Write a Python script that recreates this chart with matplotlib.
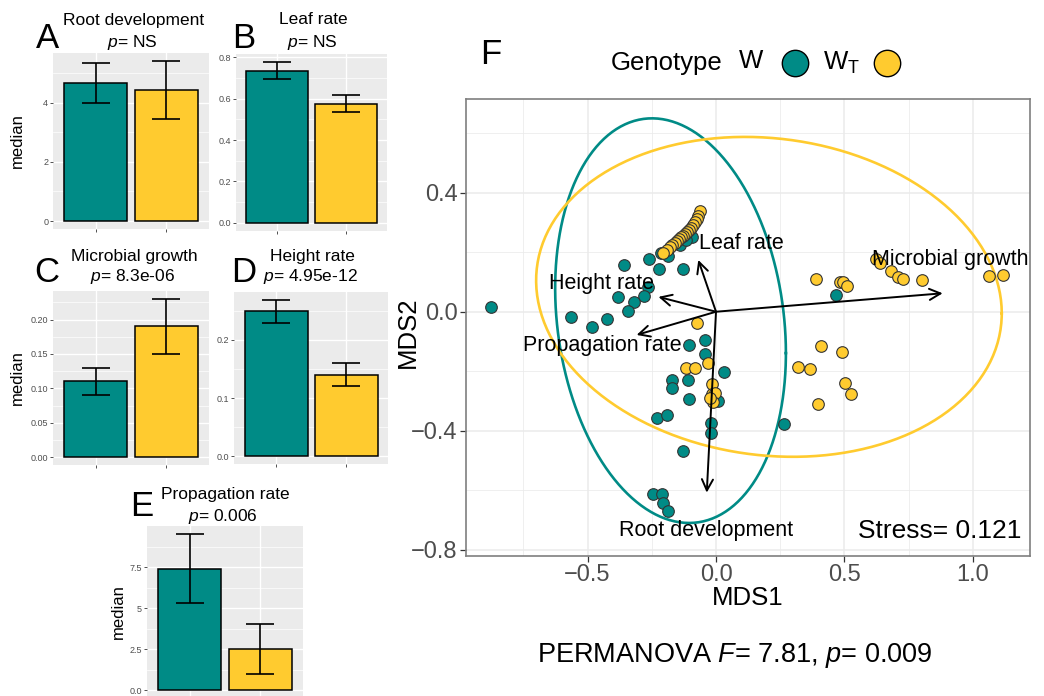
import numpy as np
import matplotlib
matplotlib.use('Agg')
import matplotlib.pyplot as plt
from matplotlib.lines import Line2D

# ---------------- data: bar panels (median with interval) ----------------
root_median = [4.67, 4.44]
root_lo = [4.00, 3.44]
root_hi = [5.35, 5.42]

leaf_median = [0.735, 0.576]
leaf_lo = [0.695, 0.537]
leaf_hi = [0.776, 0.616]

micro_median = [0.110, 0.190]
micro_lo = [0.090, 0.150]
micro_hi = [0.130, 0.230]

height_median = [0.250, 0.139]
height_lo = [0.229, 0.120]
height_hi = [0.269, 0.160]

prop_median = [7.40, 2.51]
prop_lo = [5.30, 0.97]
prop_hi = [9.53, 4.06]

# ---------------- data: MDS ordination ----------------
w_x = [-0.875, -0.358, -0.261, -0.222, -0.215, -0.188, -0.128, -0.095, -0.140, -0.115,
       -0.263, -0.282, -0.318, -0.342, -0.380, -0.425, -0.482, -0.565,
       -0.107, -0.043, -0.043, 0.031, -0.172, -0.172, -0.110, -0.105, 0.009,
       -0.230, -0.189, -0.021, -0.021, -0.127, 0.265,
       -0.244, -0.211, -0.207, -0.188, 0.466]
w_y = [0.016, 0.156, 0.176, 0.145, 0.196, 0.188, 0.143, 0.252, 0.225, 0.240,
       0.082, 0.053, 0.034, 0.003, 0.050, -0.025, -0.050, -0.017,
       -0.112, -0.095, -0.143, -0.204, -0.230, -0.258, -0.230, -0.292, -0.300,
       -0.356, -0.347, -0.375, -0.409, -0.468, -0.377,
       -0.613, -0.613, -0.644, -0.670, 0.056]

wt_x = [-0.062, -0.069, -0.075, -0.082, -0.090, -0.098, -0.105, -0.112, -0.120,
        -0.128, -0.136, -0.145, -0.152, -0.160, -0.170, -0.180, -0.192, -0.205,
        -0.075, -0.117, -0.082, -0.030, -0.017, -0.017, -0.004, -0.010, -0.023,
        0.320, 0.388, 0.482, 0.495, 0.511, 0.624, 0.639, 0.681, 0.710, 0.727,
        0.801, 1.064, 1.118, 0.409, 0.489, 0.366, 0.502, 0.524, 0.398]
wt_y = [0.340, 0.322, 0.310, 0.300, 0.290, 0.282, 0.275, 0.268, 0.262,
        0.256, 0.250, 0.244, 0.238, 0.232, 0.224, 0.216, 0.207, 0.198,
        -0.039, -0.190, -0.188, -0.173, -0.243, -0.277, -0.272, -0.303, -0.291,
        -0.185, 0.110, 0.101, 0.101, 0.086, 0.176, 0.163, 0.137, 0.118, 0.110,
        0.107, 0.120, 0.123, -0.116, -0.134, -0.194, -0.241, -0.278, -0.311]

# confidence ellipses (centre, covariance)
ell_w_center = [-0.177, -0.030]
ell_w_cov = [[0.2016, -0.049], [-0.049, 0.4624]]
ell_wt_center = [0.206, 0.050]
ell_wt_cov = [[0.821, -0.050], [-0.050, 0.289]]

# trait vectors
vec_names = ['Leaf rate', 'Height rate', 'Propagation rate', 'Microbial growth', 'Root development']
vec_x = [-0.069, -0.224, -0.309, 0.882, -0.036]
vec_y = [0.174, 0.050, -0.078, 0.062, -0.608]
lab_x = [0.097, -0.444, -0.444, 0.910, -0.040]
lab_y = [0.230, 0.096, -0.115, 0.177, -0.734]

stress_text = 'Stress= 0.121'
permanova_F = '7.81'
permanova_p = '0.009'

# ---------------- style ----------------
TEAL = '#008B86'
YEL = '#FFCB2F'
plt.rcParams['font.family'] = ['Liberation Sans', 'DejaVu Sans']
plt.rcParams['mathtext.fontset'] = 'custom'
plt.rcParams['mathtext.rm'] = 'Liberation Sans'
plt.rcParams['mathtext.it'] = 'Liberation Sans:italic'

W, H = 1044, 696
fig = plt.figure(figsize=(W / 100, H / 100), dpi=100)


def rect(x0, y0, x1, y1):
    return [x0 / W, 1 - y1 / H, (x1 - x0) / W, (y1 - y0) / H]


def fpos(x, y):
    return x / W, 1 - y / H


def bar_panel(r, med, lo, hi, ticks, ticklabels, ylabel_x=None):
    ax = fig.add_axes(r)
    ax.set_facecolor('#EBEBEB')
    med = np.array(med); lo = np.array(lo); hi = np.array(hi)
    x = np.array([1, 2])
    ax.bar(x, med, width=0.9, color=[TEAL, YEL], edgecolor='black', linewidth=1.1, zorder=3)
    ax.errorbar(x, med, yerr=[med - lo, hi - med], fmt='none', ecolor='black',
                elinewidth=1.2, capsize=10, capthick=1.2, zorder=4)
    top = hi.max()
    ax.set_ylim(-0.05 * top, 1.05 * top)
    ax.set_xlim(0.4, 2.6)
    ax.set_yticks(ticks)
    ax.set_yticklabels(ticklabels)
    step = ticks[1] - ticks[0]
    minor = np.arange(ticks[0] + step / 2, 1.05 * top, step)
    ax.set_yticks(minor, minor=True)
    ax.set_xticks(x)
    ax.set_xticklabels(['', ''])
    ax.grid(True, which='major', color='white', linewidth=1.0, zorder=0)
    ax.grid(True, which='minor', axis='y', color='white', linewidth=0.5, zorder=0)
    ax.set_axisbelow(True)
    for s in ax.spines.values():
        s.set_visible(False)
    ax.tick_params(axis='both', which='major', length=2.5, width=0.6, color='#333333',
                   labelsize=6.5, labelcolor='#4D4D4D', pad=1)
    ax.tick_params(axis='y', which='minor', length=0)
    if ylabel_x is not None:
        ax.set_ylabel('median', fontsize=12)
        ax.yaxis.set_label_coords(ylabel_x, 0.5)
    return ax


axA = bar_panel(rect(53, 53, 209, 229), root_median, root_lo, root_hi,
                [0, 2, 4], ['0', '2', '4'], (25 - 53) / 156)
axB = bar_panel(rect(236, 54, 387, 231), leaf_median, leaf_lo, leaf_hi,
                [0, 0.2, 0.4, 0.6, 0.8], ['0.0', '0.2', '0.4', '0.6', '0.8'])
axC = bar_panel(rect(53, 291, 209, 465), micro_median, micro_lo, micro_hi,
                [0, 0.05, 0.10, 0.15, 0.20], ['0.00', '0.05', '0.10', '0.15', '0.20'],
                (25 - 53) / 156)
axD = bar_panel(rect(234, 292, 388, 464), height_median, height_lo, height_hi,
                [0, 0.1, 0.2], ['0.0', '0.1', '0.2'])
axE = bar_panel(rect(147, 526, 303, 698), prop_median, prop_lo, prop_hi,
                [0, 2.5, 5, 7.5], ['0.0', '2.5', '5', '7.5'], (126 - 147) / 156)

# titles
titles = [((134, 20), (132, 43), 'Root development', 'NS'),
          ((313, 20), (312, 43), 'Leaf rate', 'NS'),
          ((134, 256), (133, 277), 'Microbial growth', '8.3e-06'),
          ((312, 256), (310, 277), 'Height rate', '4.95e-12'),
          ((225, 495), (223, 516), 'Propagation rate', '0.006')]
for (p1, p2, t, p) in titles:
    fig.text(*fpos(*p1), t, ha='center', va='center', fontsize=12.5)
    fig.text(*fpos(*p2), '$p$= ' + p, ha='center', va='center', fontsize=12.5)

for (x, y, L) in [(47, 39, 'A'), (244, 39, 'B'), (47, 273, 'C'), (244, 273, 'D'),
                  (142, 507, 'E'), (491, 55, 'F')]:
    fig.text(*fpos(x, y), L, ha='center', va='center', fontsize=25)

# ---------------- panel F ----------------
axF = fig.add_axes(rect(466, 99, 1030, 556))
axF.set_xlim(-0.973, 1.222)
axF.set_ylim(-0.821, 0.715)
axF.set_xticks([-0.5, 0.0, 0.5, 1.0])
axF.set_xticks([-0.75, -0.25, 0.25, 0.75], minor=True)
axF.set_yticks([-0.8, -0.4, 0.0, 0.4])
axF.set_yticks([-0.6, -0.2, 0.2, 0.6], minor=True)
axF.grid(True, which='major', color='#EBEBEB', linewidth=1.1, zorder=0)
axF.grid(True, which='minor', color='#EBEBEB', linewidth=0.55, zorder=0)
axF.set_axisbelow(True)
for s in axF.spines.values():
    s.set_color('#7F7F7F')
    s.set_linewidth(1.2)
axF.tick_params(axis='both', which='major', length=4, width=0.9, color='#333333',
                labelsize=17, labelcolor='#4D4D4D', pad=2)
axF.tick_params(which='minor', length=0)
axF.set_xlabel('MDS1', fontsize=18.5)
axF.xaxis.set_label_coords(0.5, -(586 - 556) / 457)
axF.set_ylabel('MDS2', fontsize=18.5)
axF.yaxis.set_label_coords((420 - 466) / 564, 0.49)

# ellipses
t = np.linspace(0, 2 * np.pi, 300)
circ = np.vstack([np.cos(t), np.sin(t)])
for cen, cov, col in [(ell_w_center, ell_w_cov, TEAL), (ell_wt_center, ell_wt_cov, YEL)]:
    L = np.linalg.cholesky(np.array(cov))
    pts = L @ circ + np.array(cen)[:, None]
    axF.plot(pts[0], pts[1], color=col, linewidth=1.9, zorder=2)

axF.scatter(w_x, w_y, s=70, facecolor=TEAL, edgecolor='#333333', linewidth=0.8, zorder=3)
axF.scatter(wt_x, wt_y, s=70, facecolor=YEL, edgecolor='#333333', linewidth=0.8, zorder=3)

for nm, vx, vy, lx, ly in zip(vec_names, vec_x, vec_y, lab_x, lab_y):
    axF.annotate('', xy=(vx, vy), xytext=(0, 0),
                 arrowprops=dict(arrowstyle='->,head_length=0.8,head_width=0.4',
                                 color='black', lw=1.4, shrinkA=0, shrinkB=0), zorder=5)
    axF.text(lx, ly, nm, ha='center', va='center', fontsize=15.5, zorder=6)

axF.text(0.985, 0.055, stress_text, transform=axF.transAxes, ha='right', va='center',
         fontsize=19)

# legend
fig.text(*fpos(611, 63), 'Genotype', ha='left', va='center', fontsize=18.5)
fig.text(*fpos(751, 61), 'W', ha='center', va='center', fontsize=18.5)
fig.text(*fpos(842, 63), r'W$_\mathregular{T}$', ha='center', va='center', fontsize=18.5)
for xk, col in [(795, TEAL), (887, YEL)]:
    fig.add_artist(Line2D([xk / W], [1 - 63 / H], marker='o', markersize=19,
                          markerfacecolor=col, markeredgecolor='black', markeredgewidth=1.0,
                          linestyle='none', transform=fig.transFigure))

fig.text(*fpos(735, 656), 'PERMANOVA $F$= ' + permanova_F + ', $p$= ' + permanova_p,
         ha='center', va='center', fontsize=19.5)

fig.savefig('out.png', dpi=100)
